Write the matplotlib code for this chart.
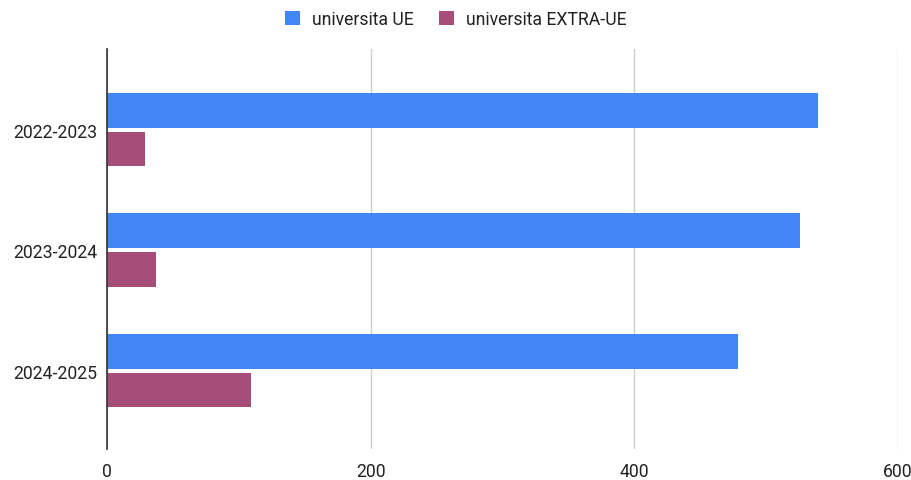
import numpy as np
import matplotlib
matplotlib.use("Agg")
import matplotlib.pyplot as plt

# data
years = ["2022-2023", "2023-2024", "2024-2025"]
univ_ue = [539, 526, 479]
univ_extra_ue = [29, 37, 109]
xticks = [0, 200, 400, 600]

plt.rcParams['font.family'] = ['Roboto', 'DejaVu Sans']

fig = plt.figure(figsize=(9.12, 4.81), dpi=100)
ax = fig.add_axes([0.1173, 0.0644, 0.8673, 0.8316])

pos = np.arange(len(years))
hbar = 0.29
off = 0.16
ax.barh(pos - off, univ_ue, height=hbar, color='#4285F4', label='universita UE', zorder=3)
ax.barh(pos + off, univ_extra_ue, height=hbar, color='#A64D79', label='universita EXTRA-UE', zorder=3)

ax.set_xlim(0, 600)
ax.set_ylim(2.65, -0.67)
ax.set_xticks(xticks)
ax.set_yticks(pos)
ax.set_yticklabels(years)
ax.tick_params(axis='both', length=0, labelsize=12.7, labelcolor='#222222')
ax.tick_params(axis='x', pad=9)
ax.tick_params(axis='y', pad=7)
ax.grid(axis='x', color='#cccccc', linewidth=1, zorder=0)
for s in ['top', 'right', 'bottom']:
    ax.spines[s].set_visible(False)
ax.spines['left'].set_color('#333333')
ax.spines['left'].set_linewidth(1.2)
ax.spines['left'].set_zorder(4)

fig.legend(loc='upper center', bbox_to_anchor=(0.5, 1.01), ncol=2, frameon=False,
           fontsize=12.7, handlelength=0.85, handleheight=0.85, columnspacing=1.4,
           handletextpad=0.7, labelcolor='#222222')

fig.savefig("out.png", dpi=100)
